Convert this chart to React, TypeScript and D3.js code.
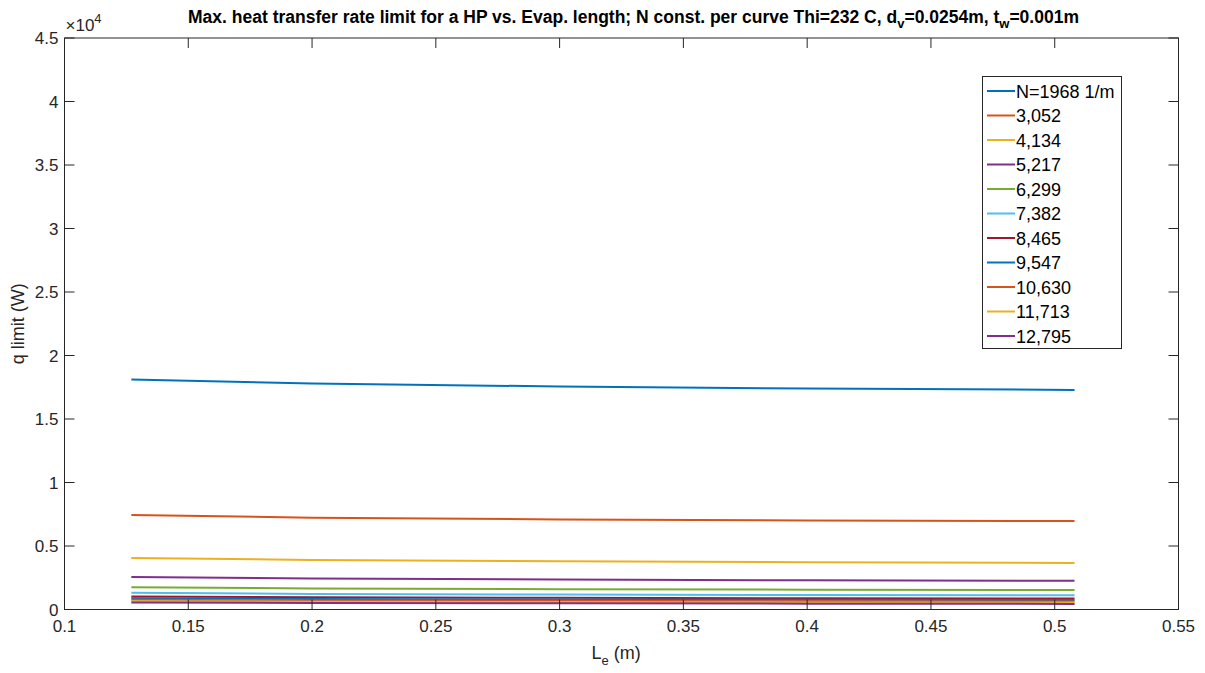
import React from "react";
import * as d3 from "d3";

const xs = [0.127, 0.2, 0.3, 0.4, 0.508];
const seriesLabels = ["N=1968 1/m", "3,052", "4,134", "5,217", "6,299", "7,382", "8,465", "9,547", "10,630", "11,713", "12,795"];
const s1968 = [18120, 17800, 17560, 17400, 17290];
const s3052 = [7450, 7230, 7090, 7010, 6960];
const s4134 = [4060, 3900, 3790, 3720, 3670];
const s5217 = [2560, 2440, 2360, 2300, 2260];
const s6299 = [1760, 1660, 1600, 1560, 1530];
const s7382 = [1310, 1230, 1180, 1140, 1120];
const s8465 = [1030, 960, 920, 890, 870];
const s9547 = [880, 820, 790, 770, 750];
const s10630 = [760, 710, 680, 650, 630];
const s11713 = [650, 610, 580, 560, 550];
const s12795 = [560, 520, 490, 460, 440];
const allSeries = [s1968, s3052, s4134, s5217, s6299, s7382, s8465, s9547, s10630, s11713, s12795];
const colors = ["#0072BD", "#D95319", "#EDB120", "#7E2F8E", "#77AC30", "#4DBEEE", "#A2142F"];
const xTicks = [0.1, 0.15, 0.2, 0.25, 0.3, 0.35, 0.4, 0.45, 0.5, 0.55];
const yTicks = [0, 0.5, 1, 1.5, 2, 2.5, 3, 3.5, 4, 4.5];

export default function App() {
  const W = 1205, H = 673;
  const L = 64.5, R = 1178.5, T = 38, B = 609.5;
  const x = d3.scaleLinear().domain([0.1, 0.55]).range([L, R]);
  const y = d3.scaleLinear().domain([0, 45000]).range([B, T]);
  const line = d3.line<number>().x((_, i) => x(xs[i])).y((v) => y(v));
  const font = "Liberation Sans, Arial, sans-serif";
  const tc = "#262626";
  const tick = 10;
  return (
    <svg width={W} height={H} style={{ position: "absolute", left: 0, top: 0, background: "#fff" }} fontFamily={font}>
      <rect x={0} y={0} width={W} height={H} fill="#fff" />
      {allSeries.map((s, i) => (
        <path key={i} d={line(s) || ""} fill="none" stroke={colors[i % colors.length]} strokeWidth={2} />
      ))}
      <rect x={L} y={T} width={R - L} height={B - T} fill="none" stroke="#262626" strokeWidth={1} />
      {xTicks.map((t) => (
        <g key={"x" + t}>
          <line x1={x(t)} x2={x(t)} y1={B} y2={B - tick} stroke={tc} />
          <line x1={x(t)} x2={x(t)} y1={T} y2={T + tick} stroke={tc} />
          <text x={x(t)} y={B + 22} textAnchor="middle" fontSize={17} fill={tc}>{String(t)}</text>
        </g>
      ))}
      {yTicks.map((t) => (
        <g key={"y" + t}>
          <line x1={L} x2={L + tick} y1={y(t * 10000)} y2={y(t * 10000)} stroke={tc} />
          <line x1={R} x2={R - tick} y1={y(t * 10000)} y2={y(t * 10000)} stroke={tc} />
          <text x={L - 6} y={y(t * 10000) + 6} textAnchor="end" fontSize={17} fill={tc}>{String(t)}</text>
        </g>
      ))}
      <text x={L + 1} y={T - 7} fontSize={17} fill={tc}>
        ×10<tspan dy={-8} fontSize={13}>4</tspan>
      </text>
      <text x={(L + R) / 2 + 12} y={23} textAnchor="middle" fontSize={17.5} fontWeight="bold" fill="#000">
        Max. heat transfer rate limit for a HP vs. Evap. length; N const. per curve Thi=232 C, d
        <tspan dy={5} fontSize={13}>v</tspan>
        <tspan dy={-5}>=0.0254m, t</tspan>
        <tspan dy={5} fontSize={13}>w</tspan>
        <tspan dy={-5}>=0.001m</tspan>
      </text>
      <text x={(L + R) / 2 - 30} y={659} fontSize={18} fill={tc}>
        L<tspan dy={6} fontSize={13}>e</tspan>
        <tspan dy={-6}> (m)</tspan>
      </text>
      <text transform={`translate(24, ${(T + B) / 2}) rotate(-90)`} textAnchor="middle" fontSize={18} fill={tc}>
        q limit (W)
      </text>
      <g>
        <rect x={982.5} y={76.5} width={139} height={272} fill="#fff" stroke="#262626" strokeWidth={1} />
        {seriesLabels.map((lab, i) => {
          const yy = 91 + i * 24.5;
          return (
            <g key={lab}>
              <line x1={987} x2={1015} y1={yy} y2={yy} stroke={colors[i % colors.length]} strokeWidth={2} />
              <text x={1016} y={yy + 6.5} fontSize={18} fill="#000">{lab}</text>
            </g>
          );
        })}
      </g>
    </svg>
  );
}
